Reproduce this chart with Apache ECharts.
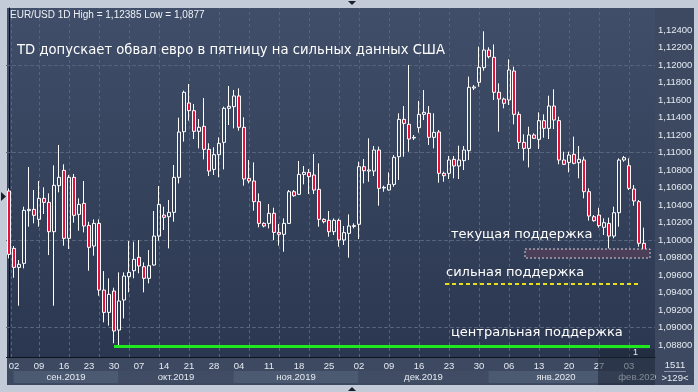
<!DOCTYPE html>
<html>
<head>
<meta charset="utf-8">
<script src="https://cdn.jsdelivr.net/npm/echarts@6/dist/echarts.min.js"></script>
<style>
html, body { margin: 0; padding: 0; background: #c3cbd8; }
#chart { width: 698px; height: 392px; }
</style>
</head>
<body>
<div id="chart"></div>
<script>
// EUR/USD daily, 30.08.2019 - 05.02.2020
var opens = [1.1056,1.09904,1.09687,1.09733,1.10335,1.1035,1.10236,1.10476,1.1043,1.10095,
  1.10621,1.10796,1.10019,1.10716,1.10293,1.10419,1.10167,1.09931,1.1019,1.09428,
  1.09173,1.09417,1.08971,1.09314,1.09581,1.09649,1.09802,1.09695,1.09562,1.09714,
  1.10045,1.10285,1.10266,1.10316,1.10716,1.11238,1.11566,1.11478,1.11242,1.11299,
  1.11036,1.10807,1.10975,1.11116,1.11505,1.11524,1.11646,1.11288,1.10705,1.10674,
  1.10438,1.1019,1.1019,1.10305,1.10087,1.10065,1.1019,1.10552,1.10522,1.1075,
  1.10773,1.10743,1.10579,1.10236,1.10225,1.10095,1.10225,1.1,1.10076,1.10156,
  1.10179,1.10838,1.10788,1.10788,1.11028,1.10594,1.10571,1.10636,1.10952,1.11379,
  1.11322,1.11166,1.11284,1.11436,1.11448,1.11173,1.11234,1.10762,1.10762,1.10922,
  1.10846,1.10907,1.11021,1.11737,1.11802,1.1197,1.12171,1.12088,1.11688,1.11611,
  1.116,1.11931,1.11436,1.11116,1.11047,1.112,1.1115,1.11364,1.11276,1.11531,
  1.11364,1.10914,1.10887,1.10979,1.10884,1.10914,1.10552,1.10266,1.10285,1.10145,
  1.1019,1.10045,1.10312,1.10914,1.10849,1.10583,1.10438,1.09962];
var closes = [1.09836,1.09687,1.09722,1.10339,1.1035,1.10282,1.10476,1.1043,1.10095,1.10625,
  1.10716,1.10019,1.10716,1.10282,1.10407,1.1016,1.09916,1.1019,1.09428,1.09173,
  1.09379,1.0896,1.09303,1.09588,1.0963,1.09779,1.09703,1.09562,1.09706,1.10045,
  1.10407,1.10259,1.10316,1.10716,1.11234,1.11688,1.11478,1.11242,1.11288,1.11036,
  1.10788,1.10975,1.11105,1.11505,1.11528,1.11646,1.11288,1.10697,1.10674,1.10438,
  1.1019,1.1016,1.10305,1.10087,1.10065,1.1019,1.10552,1.10506,1.1075,1.10773,
  1.10724,1.10571,1.10236,1.10209,1.10095,1.10225,1.1,1.10084,1.1016,1.10164,
  1.10838,1.10792,1.108,1.11028,1.1059,1.10602,1.10636,1.10945,1.11379,1.11333,
  1.11154,1.11173,1.11436,1.11459,1.11173,1.1123,1.10762,1.10735,1.10914,1.10846,
  1.10914,1.11028,1.11745,1.11749,1.11973,1.12171,1.12095,1.11688,1.11611,1.11562,
  1.11943,1.11436,1.11116,1.11047,1.112,1.11162,1.11364,1.11276,1.11531,1.11371,
  1.10914,1.10865,1.10971,1.10876,1.10922,1.10552,1.10274,1.10221,1.10164,1.10198,
  1.10045,1.10312,1.10914,1.10941,1.1059,1.10446,1.09962,1.0981];
var lows = [1.0979,1.09569,1.09249,1.09676,1.10152,1.1019,1.10152,1.10297,1.09828,1.09249,
  1.10545,1.09935,1.09897,1.10198,1.10106,1.10087,1.09649,1.09821,1.09363,1.09059,
  1.09021,1.08819,1.0877,1.09104,1.09402,1.09562,1.09619,1.09402,1.09504,1.09706,
  1.09992,1.10114,1.09904,1.10209,1.10647,1.11124,1.11364,1.11154,1.11047,1.10922,
  1.10731,1.10743,1.10716,1.10807,1.11314,1.11276,1.11249,1.10621,1.10647,1.10335,
  1.10145,1.10145,1.10133,1.1,1.09935,1.09866,1.10183,1.10495,1.10514,1.10636,
  1.10526,1.10526,1.10152,1.1019,1.10038,1.10057,1.09924,1.09943,1.09798,1.10133,
  1.10011,1.10647,1.10666,1.10731,1.10392,1.10552,1.10564,1.10609,1.10686,1.10952,
  1.11009,1.11143,1.11227,1.11371,1.11086,1.11047,1.10655,1.10666,1.10697,1.10705,
  1.10697,1.108,1.10914,1.11714,1.11752,1.11935,1.12076,1.116,1.11238,1.11505,
  1.11543,1.11322,1.1104,1.10907,1.1083,1.11154,1.1104,1.11169,1.11154,1.11268,
  1.10865,1.10857,1.10773,1.10865,1.10705,1.10476,1.10221,1.10209,1.10141,1.10057,
  1.09904,1.10019,1.10152,1.10895,1.10571,1.10392,1.09924,1.09795];
var highs = [1.1059,1.09931,1.09771,1.10381,1.10834,1.10571,1.10674,1.10602,1.10533,1.10853,
  1.11086,1.10865,1.10743,1.10754,1.10476,1.10674,1.10209,1.10236,1.10236,1.09645,
  1.09562,1.09455,1.0963,1.0963,1.09988,1.09981,1.1,1.09744,1.09885,1.10331,
  1.10617,1.10381,1.10457,1.10857,1.11398,1.11707,1.11783,1.11554,1.11383,1.11623,
  1.11105,1.11059,1.11173,1.11524,1.1176,1.11714,1.11733,1.11402,1.10914,1.10887,
  1.10533,1.10202,1.10411,1.10369,1.10183,1.10247,1.10571,1.10571,1.10903,1.10846,
  1.10811,1.10983,1.10876,1.10247,1.10331,1.10247,1.10244,1.1016,1.10293,1.1019,
  1.10895,1.10926,1.11162,1.11074,1.11067,1.10621,1.10773,1.10971,1.11448,1.11531,
  1.12,1.112,1.11589,1.11714,1.11531,1.11448,1.11257,1.10781,1.1096,1.1096,
  1.11078,1.11074,1.11867,1.11771,1.1221,1.12385,1.12202,1.12236,1.1179,1.11627,
  1.12065,1.11981,1.11467,1.11208,1.11295,1.11219,1.11459,1.11436,1.11649,1.11722,
  1.11409,1.11009,1.11009,1.11181,1.11074,1.10952,1.1059,1.10285,1.10369,1.10247,
  1.10255,1.10381,1.10933,1.1096,1.10933,1.10628,1.10457,1.10141];

// date labels on the time axis (candle index -> text)
var dayIdx  = [1,6,11,16,21,26,31,36,41,46,52,58,64,70,76,82,88,94,100,106,112,118,124];
var dayText = ['02','09','16','23','30','07','14','21','28','04','11','18','25',
               '02','09','16','23','30','06','13','20','27','03'];
var monthStart = [1, 22, 45, 70, 96, 123];
var monthText  = ['сен.2019','окт.2019','ноя.2019','дек.2019','янв.2020','фев.2020'];

// price levels
var priceTicks = [1.088,1.090,1.092,1.094,1.096,1.098,1.100,1.102,1.104,1.106,
                  1.108,1.110,1.112,1.114,1.116,1.118,1.120,1.122,1.124];
var lastPrice = 1.0981;
var centralLevel = 1.0879, strongLevel = 1.0950;
var currentZone = [1.09794, 1.09897];
// weekly grid columns (candle index)
var weekCols = [0.4,6,12,18,24,30,36,42,48,54,60,66,70,76,82,88,94,100,106,112,118,124];

var ohlc = [];
for (var i = 0; i < opens.length; i++) ohlc.push([i, opens[i], closes[i], lows[i], highs[i]]);
var dayLabel = {};
for (var i = 0; i < dayIdx.length; i++) dayLabel[dayIdx[i]] = dayText[i];

var txt = '#e6ebf2';
var font = 'Liberation Sans';

var chart = echarts.init(document.getElementById('chart'));
var option = {
    animation: false,
    backgroundColor: 'transparent',
    grid: { left: 6.5, right: 43, top: 8, bottom: 35 },
    xAxis: {
        type: 'value', min: -0.5, max: 129.2,
        axisLine: { show: true, onZero: false, lineStyle: { color: '#0e131c', width: 1 } },
        axisTick: { show: false },
        splitLine: { show: false },
        axisLabel: {
            customValues: dayIdx, margin: 4, color: txt, fontSize: 9.5, fontFamily: font,
            formatter: function (v) { return dayLabel[Math.round(v)] || ''; }
        }
    },
    yAxis: {
        type: 'value', position: 'right', scale: true,
        min: 1.086629, max: 1.126514,
        axisLine: { show: true, lineStyle: { color: '#0e131c', width: 1 } },
        axisTick: { show: false },
        splitLine: { show: false },
        axisLabel: {
            customValues: priceTicks, margin: 3,
            color: txt, fontSize: 9.5, fontFamily: font,
            formatter: function (v) { return v.toFixed(5).replace('.', ','); }
        }
    },
    series: [{
        type: 'line', data: [], silent: true, z: 1,
        markLine: {
            silent: true, symbol: 'none', z: 1, label: { show: false },
            lineStyle: { color: '#56647d', width: 1, type: [3, 3] },
            data: priceTicks.map(function (v) { return { yAxis: v }; })
                .concat(weekCols.map(function (v) { return { xAxis: v }; }))
        }
    }, {
        type: 'candlestick', data: ohlc, barWidth: 3, z: 3,
        encode: { x: 0, y: [1, 2, 3, 4] },
        itemStyle: {
            color: 'rgba(0,0,0,0)', color0: '#e8103a',
            borderColor: '#ffffff', borderColor0: '#ffffff', borderColorDoji: '#ffffff',
            borderWidth: 1
        }
    }, {
        type: 'line', data: [], silent: true, z: 5,
        markArea: {
            silent: true, z: 4,
            itemStyle: { color: '#4b3f58', borderColor: '#d6cfdc', borderWidth: 1, borderType: [2, 2] },
            data: [[{ coord: [103.2, currentZone[1]] }, { coord: [128.2, currentZone[0]] }]]
        },
        markLine: {
            silent: true, symbol: 'none', z: 6,
            label: { show: false },
            data: [
                [{ coord: [21, centralLevel], lineStyle: { color: '#1fe81f', width: 3, type: 'solid' } },
                 { coord: [128.2, centralLevel] }],
                [{ coord: [87.2, strongLevel], lineStyle: { color: '#e4df1a', width: 2, type: [4, 3] } },
                 { coord: [126.4, strongLevel] }],
                { yAxis: lastPrice, lineStyle: { opacity: 0 },
                  label: { show: true, position: 'end', distance: 4,
                           formatter: '1,09810', color: '#15191f', fontSize: 9.5, fontFamily: font,
                           backgroundColor: '#c9cdd4', padding: [2, 2, 1, 3] } }
            ]
        }
    }]
};
chart.setOption(option);

function px(v) { return chart.convertToPixel({ xAxisIndex: 0 }, v); }

var g = [];
// dark frame and panels
g.push({ type: 'rect', z: -20, shape: { x: 7, y: 8, width: 687, height: 377 }, style: { fill: '#3c4961' } });
g.push({ type: 'rect', z: -19, shape: { x: 7, y: 8, width: 648, height: 349 },
    style: { fill: { type: 'linear', x: 0, y: 0, x2: 0, y2: 1,
        colorStops: [{ offset: 0, color: '#404e69' }, { offset: 1, color: '#2b3750' }] } } });
// month bands on the time axis
for (var m = 0; m < monthStart.length; m++) {
    var a = px(monthStart[m] - 0.1);
    var b = m + 1 < monthStart.length ? px(monthStart[m + 1] - 0.1) : 655;
    g.push({ type: 'rect', z: -18, shape: { x: a, y: 371, width: b - a, height: 12 },
        style: { fill: m % 2 === 0 ? '#4b5971' : '#3f4c64' } });
    g.push({ type: 'text', z: 10, x: (a + b) / 2, y: 377,
        style: { text: monthText[m], fill: txt, font: '9.5px ' + font, align: 'center', verticalAlign: 'middle' } });
}
// dimmed strip at the right end of the time axis
g.push({ type: 'rect', z: 10, shape: { x: 598, y: 349, width: 57, height: 36 }, style: { fill: 'rgba(28,36,52,0.5)' } });
// bottom-right counter box (covers the cut month label)
g.push({ type: 'rect', z: 11, shape: { x: 656, y: 358, width: 38, height: 27 }, style: { fill: '#3c4961' } });
g.push({ type: 'line', z: 12, shape: { x1: 664, y1: 371.5, x2: 686, y2: 371.5 }, style: { stroke: '#8d98aa', lineWidth: 1 } });
g.push({ type: 'text', z: 12, x: 675, y: 365, style: { text: '1511', fill: txt, font: '9.5px ' + font, align: 'center', verticalAlign: 'middle' } });
g.push({ type: 'text', z: 12, x: 675, y: 378, style: { text: '>129<', fill: txt, font: '9.5px ' + font, align: 'center', verticalAlign: 'middle' } });
// captions
g.push({ type: 'text', z: 10, x: 10, y: 15,
    style: { text: 'EUR/USD 1D High = 1,12385 Low = 1,0877', fill: '#eef2f7', font: '10px ' + font, verticalAlign: 'middle' } });
g.push({ type: 'text', z: 10, x: 17, y: 51,
    style: { text: 'TD допускает обвал евро в пятницу на сильных данных США', fill: '#ffffff', font: '13.2px DejaVu Sans', verticalAlign: 'middle' } });
g.push({ type: 'text', z: 10, x: 451, y: 235,
    style: { text: 'текущая поддержка', fill: '#ffffff', font: '13px DejaVu Sans', verticalAlign: 'middle' } });
g.push({ type: 'text', z: 10, x: 446, y: 273,
    style: { text: 'сильная поддержка', fill: '#ffffff', font: '13px DejaVu Sans', verticalAlign: 'middle' } });
g.push({ type: 'text', z: 10, x: 451, y: 333,
    style: { text: 'центральная поддержка', fill: '#ffffff', font: '13px DejaVu Sans', verticalAlign: 'middle' } });
g.push({ type: 'text', z: 12, x: 633, y: 353,
    style: { text: '1', fill: txt, font: '9px ' + font, verticalAlign: 'middle' } });
// scroll markers on the frame
g.push({ type: 'polygon', z: 10, shape: { points: [[348, 1], [356, 1], [352, 5]] }, style: { fill: '#1a1f28' } });
g.push({ type: 'polygon', z: 10, shape: { points: [[348, 391], [356, 391], [352, 387]] }, style: { fill: '#1a1f28' } });
g.push({ type: 'polygon', z: 10, shape: { points: [[1, 192], [1, 201], [6, 196.5]] }, style: { fill: '#1a1f28' } });
chart.setOption({ graphic: g });
</script>
</body>
</html>
